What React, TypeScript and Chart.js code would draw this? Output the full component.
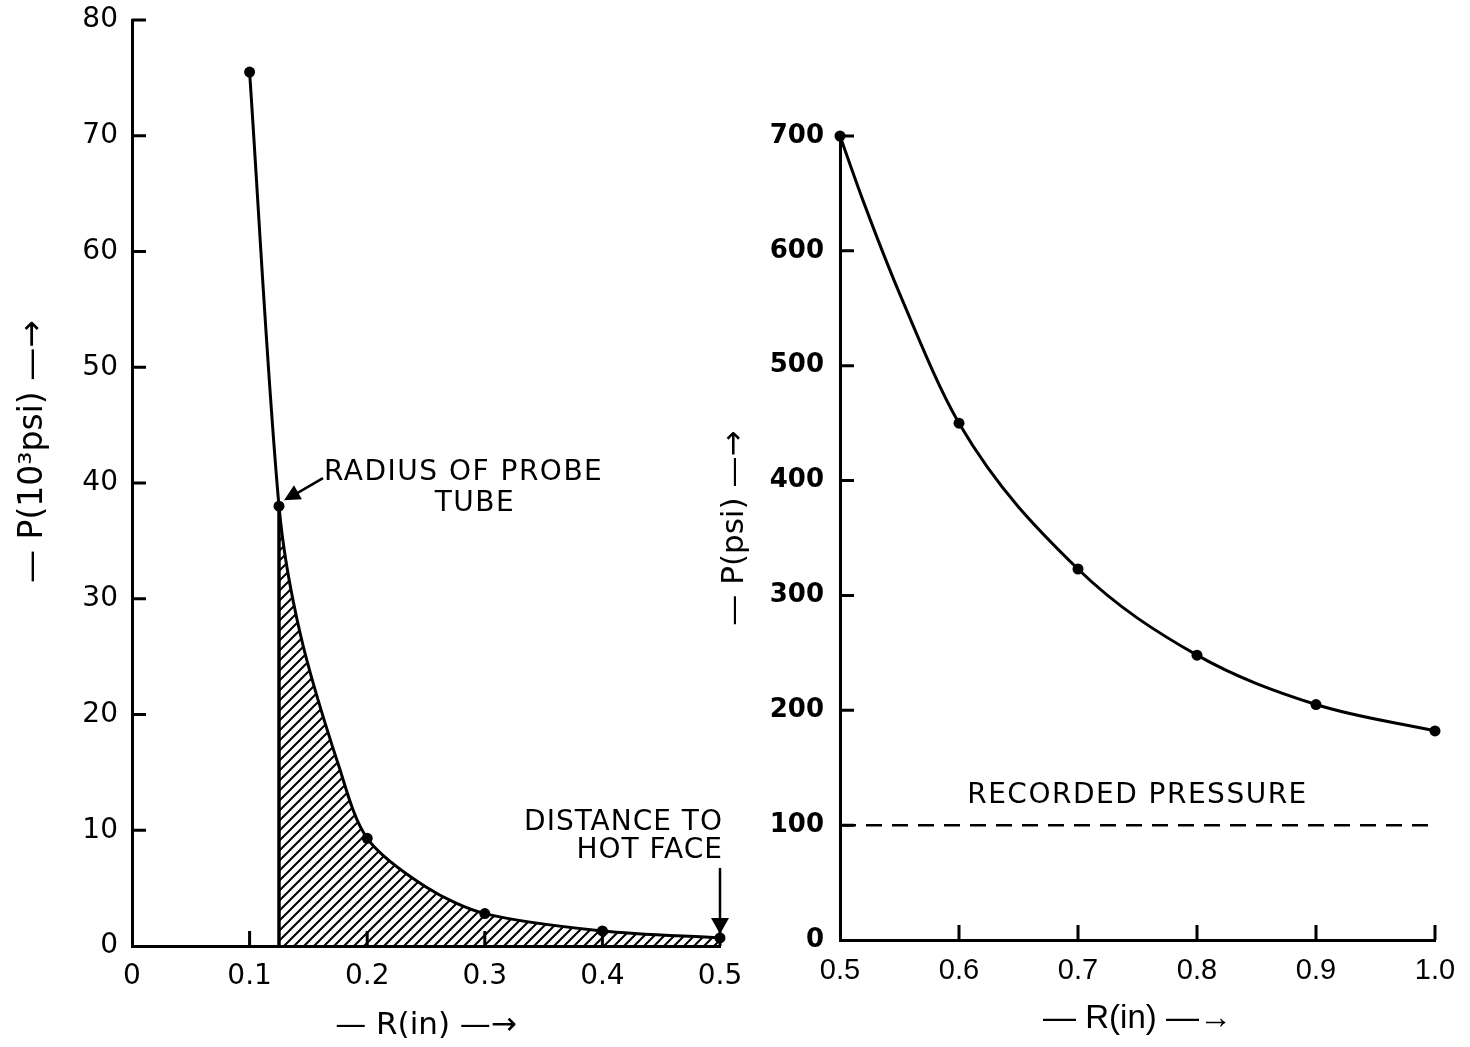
import React, { useEffect, useRef } from "react";
import { Chart, registerables } from "chart.js";

Chart.register(...registerables);

// ---------- data: left panel (P in 10^3 psi) ----------
// measured points (dots)
const leftR = [0.1, 0.125, 0.2, 0.3, 0.4, 0.5];
const leftP = [75.5, 38, 9.3, 2.8, 1.3, 0.7];
// curve (passes through the dots)
const leftCurveR = [0.1, 0.125, 0.143, 0.176, 0.2, 0.25, 0.3, 0.4, 0.5];
const leftCurveP = [75.5, 38, 27.0, 15.5, 9.3, 5.1, 2.8, 1.3, 0.7];
const probeRadius = 0.125;
const probeP = 38;
const hotFaceR = 0.5;
const hotFaceP = 0.7;
const leftXTicks = [0, 0.1, 0.2, 0.3, 0.4, 0.5];
const leftXLabels = ["0", "0.1", "0.2", "0.3", "0.4", "0.5"];
const leftYTicks = [0, 10, 20, 30, 40, 50, 60, 70, 80];
const leftYLabels = ["0", "10", "20", "30", "40", "50", "60", "70", "80"];

// ---------- data: right panel (P in psi) ----------
const rightR = [0.5, 0.6, 0.7, 0.8, 0.9, 1.0];
const rightP = [700, 450, 323, 248, 205, 182];
// curve (passes through the dots)
const rightCurveR = [0.5, 0.52, 0.55, 0.6, 0.7, 0.8, 0.9, 1.0];
const rightCurveP = [700, 642, 563, 450, 323, 248, 205, 182];
const recordedPressure = 100;
const rightXTicks = [0.5, 0.6, 0.7, 0.8, 0.9, 1.0];
const rightXLabels = ["0.5", "0.6", "0.7", "0.8", "0.9", "1.0"];
const rightYTicks = [0, 100, 200, 300, 400, 500, 600, 700];
const rightYLabels = ["0", "100", "200", "300", "400", "500", "600", "700"];

const FONT = "'DejaVu Sans', 'Liberation Sans', sans-serif";
const NARROW = "'Liberation Sans Narrow', 'Liberation Sans', sans-serif";

function makeHatch(ctx: CanvasRenderingContext2D) {
  const c = document.createElement("canvas");
  c.width = 10;
  c.height = 10;
  const g = c.getContext("2d")!;
  g.strokeStyle = "#000";
  g.lineWidth = 2;
  g.lineCap = "square";
  g.beginPath();
  g.moveTo(-2, 12);
  g.lineTo(12, -2);
  g.moveTo(-2, 2);
  g.lineTo(2, -2);
  g.moveTo(8, 12);
  g.lineTo(12, 8);
  g.stroke();
  return ctx.createPattern(c, "repeat")!;
}

function arrowHead(ctx: CanvasRenderingContext2D, tx: number, ty: number, fx: number, fy: number, len = 15, w = 7) {
  const a = Math.atan2(ty - fy, tx - fx);
  ctx.beginPath();
  ctx.moveTo(tx, ty);
  ctx.lineTo(tx - len * Math.cos(a) + w * Math.sin(a), ty - len * Math.sin(a) - w * Math.cos(a));
  ctx.lineTo(tx - len * Math.cos(a) - w * Math.sin(a), ty - len * Math.sin(a) + w * Math.cos(a));
  ctx.closePath();
  ctx.fill();
}

function inwardTicks(xTicks: number[], yTicks: number[], xLen: number, yLen: number) {
  return {
    id: "inwardTicks",
    beforeDatasetsDraw(chart: any) {
      const { ctx, scales } = chart;
      const x = scales.x;
      const y = scales.y;
      ctx.save();
      ctx.strokeStyle = "#000";
      ctx.lineWidth = 3;
      ctx.beginPath();
      xTicks.slice(1).forEach((v) => {
        const px = x.getPixelForValue(v);
        ctx.moveTo(px, y.bottom);
        ctx.lineTo(px, y.bottom - xLen);
      });
      yTicks.slice(1).forEach((v) => {
        const py = y.getPixelForValue(v);
        ctx.moveTo(x.left, py);
        ctx.lineTo(x.left + yLen, py);
      });
      ctx.stroke();
      ctx.restore();
    },
  };
}

// hatched area under the drawn curve, from the probe radius to the hot face
function hatchUnderCurve(curveIndex: number) {
  return {
    id: "hatchUnderCurve",
    beforeDatasetsDraw(chart: any) {
      const { ctx, scales } = chart;
      const x = scales.x;
      const y = scales.y;
      const meta = chart.getDatasetMeta(curveIndex);
      const line = meta.dataset;
      line.updateControlPoints(chart.chartArea, meta.iScale.axis);
      const a = leftCurveR.findIndex((r) => Math.abs(r - probeRadius) < 1e-9);
      const b = leftCurveR.findIndex((r) => Math.abs(r - hotFaceR) < 1e-9);
      const start = Math.min(a, b);
      const end = Math.max(a, b);
      ctx.save();
      ctx.beginPath();
      line.path(ctx, start, end - start + 1);
      ctx.lineTo(x.getPixelForValue(leftCurveR[end]), y.getPixelForValue(0));
      ctx.lineTo(x.getPixelForValue(leftCurveR[start]), y.getPixelForValue(0));
      ctx.closePath();
      ctx.fillStyle = makeHatch(ctx);
      ctx.fill();
      ctx.restore();
    },
  };
}

function fixedTicks(values: number[]) {
  return (scale: any) => {
    scale.ticks = values.map((v) => ({ value: v }));
  };
}

function fitTo(prop: "width" | "height", size: number) {
  return (s: any) => {
    s[prop] = size;
    s.paddingTop = 0;
    s.paddingBottom = 0;
    s.paddingLeft = 0;
    s.paddingRight = 0;
  };
}

function labelFor(values: number[], labels: string[]) {
  return (v: any) => {
    const i = values.findIndex((t) => Math.abs(t - Number(v)) < 1e-9);
    return i >= 0 ? labels[i] : "";
  };
}

const leftAnnotations = {
  id: "leftAnnotations",
  afterDatasetsDraw(chart: any) {
    const { ctx, scales } = chart;
    const x = scales.x;
    const y = scales.y;
    ctx.save();
    ctx.fillStyle = "#000";
    ctx.strokeStyle = "#000";
    ctx.lineWidth = 2.5;
    // probe-tube arrow
    const px = x.getPixelForValue(probeRadius);
    const py = y.getPixelForValue(probeP);
    const tipX = px + 5;
    const tipY = py - 6;
    const tailX = px + 44;
    const tailY = py - 28;
    ctx.beginPath();
    ctx.moveTo(tailX, tailY);
    ctx.lineTo(tipX + 8, tipY - 4);
    ctx.stroke();
    arrowHead(ctx, tipX, tipY, tailX, tailY, 16, 8);
    ctx.font = `28px ${FONT}`;
    ctx.textBaseline = "middle";
    ctx.textAlign = "left";
    (ctx as any).letterSpacing = "1.5px";
    ctx.fillText("RADIUS OF PROBE", tailX + 1, py - 33);
    ctx.textAlign = "center";
    ctx.fillText("TUBE", tailX + 152, py - 2);
    // hot-face arrow
    const hx = x.getPixelForValue(hotFaceR);
    const hy = y.getPixelForValue(hotFaceP);
    ctx.beginPath();
    ctx.moveTo(hx, hy - 70);
    ctx.lineTo(hx, hy - 16);
    ctx.stroke();
    arrowHead(ctx, hx, hy - 4, hx, hy - 70, 16, 9);
    ctx.textAlign = "right";
    (ctx as any).letterSpacing = "1px";
    ctx.fillText("DISTANCE TO", hx + 3, hy - 115);
    ctx.fillText("HOT FACE", hx + 3, hy - 87);
    ctx.restore();
  },
};

const rightAnnotations = {
  id: "rightAnnotations",
  afterDatasetsDraw(chart: any) {
    const { ctx, scales } = chart;
    const x = scales.x;
    const y = scales.y;
    ctx.save();
    ctx.fillStyle = "#000";
    ctx.font = `28px ${FONT}`;
    (ctx as any).letterSpacing = "1.5px";
    ctx.textAlign = "center";
    ctx.textBaseline = "middle";
    ctx.fillText("RECORDED PRESSURE", (x.left + x.right) / 2, y.getPixelForValue(recordedPressure) - 29);
    ctx.restore();
  },
};

function LeftChart() {
  const ref = useRef<HTMLCanvasElement>(null);
  useEffect(() => {
    const canvas = ref.current!;
    const curve = leftCurveR.map((r, i) => ({ x: r, y: leftCurveP[i] }));
    const dots = leftR.map((r, i) => ({ x: r, y: leftP[i] }));
    const chart = new Chart(canvas, {
      type: "line",
      data: {
        datasets: [
          {
            data: dots,
            showLine: false,
            pointRadius: 5.5,
            pointBackgroundColor: "#000",
            pointBorderColor: "#000",
            pointBorderWidth: 0,
            fill: false,
            clip: false as any,
            order: 0,
          },
          {
            data: [
              { x: probeRadius, y: 0 },
              { x: probeRadius, y: probeP },
            ],
            borderColor: "#000",
            borderWidth: 3.5,
            pointRadius: 0,
            fill: false,
            order: 1,
          },
          {
            data: curve,
            borderColor: "#000",
            borderWidth: 3,
            pointRadius: 0,
            tension: 0.3,
            fill: false,
            clip: false as any,
            order: 2,
          },
        ],
      },
      options: {
        responsive: false,
        animation: false,
        devicePixelRatio: 1,
        layout: { padding: { left: 0, top: 20, right: 40, bottom: 0 } },
        plugins: { legend: { display: false }, tooltip: { enabled: false } },
        scales: {
          x: {
            type: "linear",
            min: 0,
            max: 0.5,
            afterBuildTicks: fixedTicks(leftXTicks),
            afterFit: fitTo("height", 101),
            grid: { display: false, drawTicks: false },
            border: { display: true, color: "#000", width: 3 },
            ticks: {
              padding: 14,
              color: "#000",
              font: { family: FONT, size: 28 },
              callback: labelFor(leftXTicks, leftXLabels),
              maxRotation: 0,
            },
            title: {
              display: true,
              text: "— R(in) —→",
              color: "#000",
              font: { family: FONT, size: 31 },
              padding: { top: 0, bottom: 2 },
            },
          },
          y: {
            type: "linear",
            min: 0,
            max: 80,
            afterBuildTicks: fixedTicks(leftYTicks),
            afterFit: fitTo("width", 132),
            grid: { display: false, drawTicks: false },
            border: { display: true, color: "#000", width: 3 },
            ticks: {
              padding: 14,
              color: "#000",
              font: { family: FONT, size: 28 },
              callback: labelFor(leftYTicks, leftYLabels),
            },
            title: {
              display: true,
              text: "      — P(10³psi) —→",
              color: "#000",
              font: { family: FONT, size: 33 },
              padding: { top: 14, bottom: 0 },
            },
          },
        },
      },
      plugins: [inwardTicks(leftXTicks, leftYTicks, 15, 14), hatchUnderCurve(2), leftAnnotations],
    } as any);
    return () => chart.destroy();
  }, []);
  return (
    <canvas
      ref={ref}
      width={760}
      height={1047}
      style={{ position: "absolute", left: 0, top: 0, width: 760, height: 1047 }}
    />
  );
}

function RightChart() {
  const ref = useRef<HTMLCanvasElement>(null);
  useEffect(() => {
    const canvas = ref.current!;
    const curve = rightCurveR.map((r, i) => ({ x: r, y: rightCurveP[i] }));
    const dots = rightR.map((r, i) => ({ x: r, y: rightP[i] }));
    const recorded = [
      { x: rightXTicks[0], y: recordedPressure },
      { x: rightXTicks[rightXTicks.length - 1], y: recordedPressure },
    ];
    const chart = new Chart(canvas, {
      type: "line",
      data: {
        datasets: [
          {
            data: dots,
            showLine: false,
            pointRadius: 5.5,
            pointBackgroundColor: "#000",
            pointBorderColor: "#000",
            pointBorderWidth: 0,
            fill: false,
            clip: false as any,
          },
          {
            data: curve,
            borderColor: "#000",
            borderWidth: 3,
            pointRadius: 0,
            cubicInterpolationMode: "monotone",
            fill: false,
            clip: false as any,
          },
          {
            data: recorded,
            borderColor: "#000",
            borderWidth: 2.5,
            borderDash: [16, 10],
            pointRadius: 0,
            fill: false,
          },
        ],
      },
      options: {
        responsive: false,
        animation: false,
        devicePixelRatio: 1,
        layout: { padding: { left: 0, top: 136, right: 35, bottom: 0 } },
        plugins: { legend: { display: false }, tooltip: { enabled: false } },
        scales: {
          x: {
            type: "linear",
            min: 0.5,
            max: 1.0,
            afterBuildTicks: fixedTicks(rightXTicks),
            afterFit: fitTo("height", 107),
            grid: { display: false, drawTicks: false },
            border: { display: true, color: "#000", width: 3 },
            ticks: {
              padding: 14,
              color: "#000",
              font: { family: NARROW, size: 29 },
              callback: labelFor(rightXTicks, rightXLabels),
              maxRotation: 0,
            },
            title: {
              display: true,
              text: "— R(in) —→",
              color: "#000",
              font: { family: NARROW, size: 33 },
              padding: { top: 0, bottom: 8 },
            },
          },
          y: {
            type: "linear",
            min: 0,
            max: 700,
            afterBuildTicks: fixedTicks(rightYTicks),
            afterFit: fitTo("width", 140),
            grid: { display: false, drawTicks: false },
            border: { display: true, color: "#000", width: 3 },
            ticks: {
              padding: 16,
              color: "#000",
              font: { family: FONT, size: 26, weight: "bold" },
              callback: labelFor(rightYTicks, rightYLabels),
            },
            title: {
              display: true,
              text: "  — P(psi) —→",
              color: "#000",
              font: { family: FONT, size: 31 },
              padding: { top: 16, bottom: 0 },
            },
          },
        },
      },
      plugins: [inwardTicks(rightXTicks, rightYTicks, 15, 14), rightAnnotations],
    } as any);
    return () => chart.destroy();
  }, []);
  return (
    <canvas
      ref={ref}
      width={770}
      height={1047}
      style={{ position: "absolute", left: 700, top: 0, width: 770, height: 1047 }}
    />
  );
}

export default function App() {
  return (
    <div
      style={{
        position: "absolute",
        left: 0,
        top: 0,
        width: 1470,
        height: 1047,
        background: "#fff",
        overflow: "hidden",
      }}
    >
      <LeftChart />
      <RightChart />
    </div>
  );
}
